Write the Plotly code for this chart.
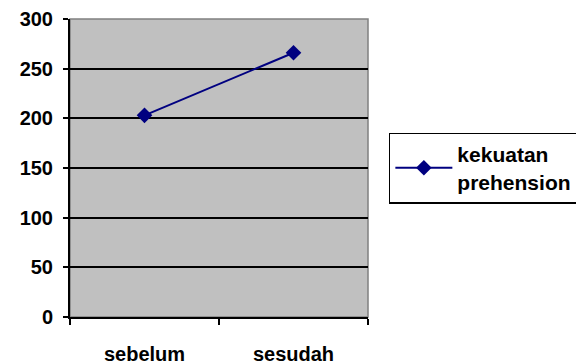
import plotly.graph_objects as go

categories = ["sebelum", "sesudah"]
values = [203, 266]
series_name = "kekuatan<br>prehension"
y_ticks = [0, 50, 100, 150, 200, 250, 300]

FAM = "Liberation Sans, Arial, sans-serif"
tfont = dict(family=FAM, size=20, color="black", weight="bold")
lfont = dict(family=FAM, size=21, color="black", weight="bold")

fig = go.Figure()
fig.add_trace(go.Scatter(
    x=categories, y=values, name=series_name, mode="lines+markers",
    line=dict(color="#000080", width=2),
    marker=dict(symbol="diamond", size=12, color="#000080"),
))

# page body has an 8px margin, so the figure is offset accordingly
fig.update_layout(
    width=592, height=364,
    margin=dict(l=62, r=232, t=11, b=55, autoexpand=False),
    paper_bgcolor="white", plot_bgcolor="#C0C0C0",
    font=dict(family=FAM, size=20, color="black"),
    showlegend=True,
    legend=dict(x=1.07, y=0.50, xanchor="left", yanchor="middle",
                bordercolor="black", borderwidth=1.5, bgcolor="white",
                font=lfont, itemwidth=57, tracegroupgap=0,
                entrywidth=210, entrywidthmode="pixels"),
    xaxis=dict(type="category", range=[-0.5, 1.5], tickson="boundaries",
               showline=True, linecolor="black", linewidth=2,
               ticks="outside", ticklen=6, tickwidth=2, tickcolor="black",
               showgrid=False, zeroline=False, automargin=False,
               tickfont=tfont, ticklabelstandoff=18),
    yaxis=dict(range=[0, 300], tickvals=y_ticks,
               showline=True, linecolor="black", linewidth=2,
               ticks="outside", ticklen=5, tickwidth=2, tickcolor="black",
               showgrid=True, gridcolor="black", gridwidth=1.5, zeroline=False,
               automargin=False, tickfont=tfont, ticklabelstandoff=6),
)
fig.add_shape(type="rect", xref="paper", yref="paper", x0=0, x1=1, y0=0, y1=1,
              line=dict(color="#808080", width=1.5), layer="below")
fig.write_html("out.html")
